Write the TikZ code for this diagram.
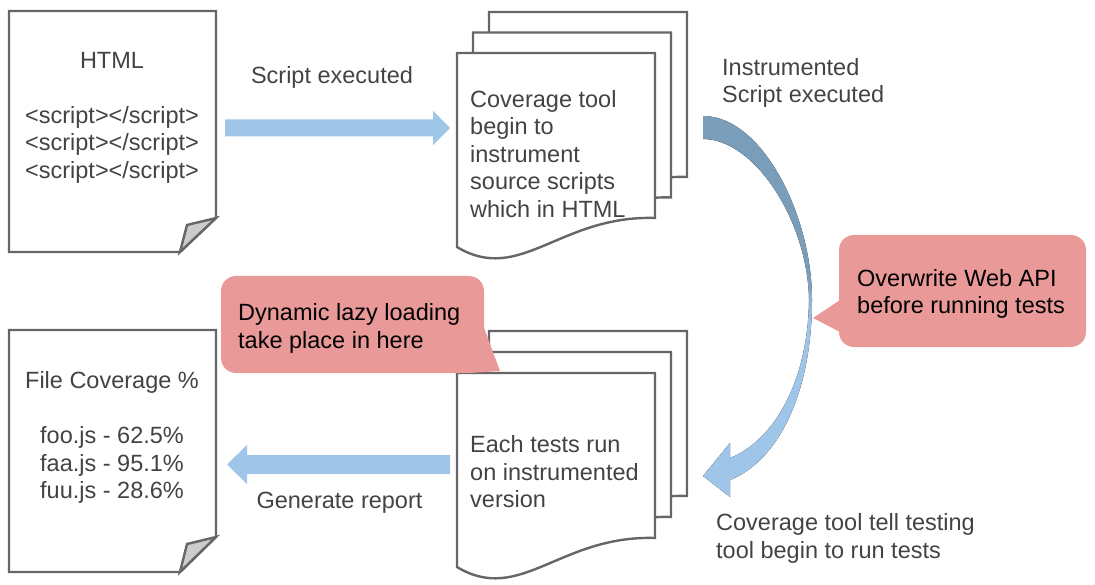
\documentclass[tikz,border=0pt]{standalone}
\usepackage{fontspec}
\setmainfont{Liberation Sans}
\definecolor{docgray}{RGB}{102,102,102}
\definecolor{foldgray}{RGB}{204,204,204}
\definecolor{txtgray}{RGB}{67,67,67}
\definecolor{arrowblue}{RGB}{159,197,232}
\definecolor{calloutred}{RGB}{234,153,153}
\definecolor{arcdark}{RGB}{122,157,186}
\definecolor{arclight}{RGB}{159,197,232}
\pgfdeclareverticalshading{arcshade}{100bp}{color(0bp)=(arclight); color(48bp)=(arclight); color(54bp)=(arcdark); color(100bp)=(arcdark)}
\newcommand\wavedoc[2]{\draw[docline,shift={(#1,#2)}] (0,0) -- (198,0) -- (198,165) .. controls (103,162) and (63,232) .. (0,194) -- cycle;}
\begin{document}
\begin{tikzpicture}[x=1pt,y=-1pt,
  docline/.style={draw=docgray, line width=2.4pt, fill=white},
  foldfill/.style={draw=docgray, line width=2.4pt, fill=foldgray},
  txt/.style={text=txtgray, font=\fontsize{23.5}{27.5}\selectfont, inner sep=0pt},
  calltxt/.style={text=black, font=\fontsize{23.5}{27.5}\selectfont, inner sep=0pt, align=left, anchor=west},
  bluearrow/.style={fill=arrowblue},
  callout/.style={fill=calloutred}]
\useasboundingbox (0,0) rectangle (1095,585);

% source HTML document
\draw[docline] (9,11) -- (216,11) -- (216,218) -- (180,252) -- (9,252) -- cycle;
\draw[foldfill] (216,218) -- (187,225) -- (180,252) -- cycle;
\node[txt, align=center] (html) at (112,117.5) {HTML\\[27.5pt]<script></script>\\<script></script>\\<script></script>};

% report document
\draw[docline] (9,330) -- (216,330) -- (216,537) -- (180,572) -- (9,572) -- cycle;
\draw[foldfill] (216,537) -- (187,544) -- (180,572) -- cycle;
\node[txt, align=center] (cov) at (112,437.5) {File Coverage \%\\[27.5pt]foo.js - 62.5\%\\faa.js - 95.1\%\\fuu.js - 28.6\%};

% stacked documents
\wavedoc{489}{12}\wavedoc{473}{32.5}\wavedoc{457}{53}
\node[txt, align=left, anchor=west] (instr) at (470,154) {Coverage tool\\begin to\\instrument\\source scripts\\which in HTML};
\wavedoc{489}{331}\wavedoc{473}{352}\wavedoc{457}{373}
\node[txt, align=left, anchor=west] (tests) at (470,472) {Each tests run\\on instrumented\\version};

% block arrows
\fill[bluearrow] (225,119.5) -- (433,119.5) -- (433,111) -- (450,128) -- (433,145) -- (433,136.5) -- (225,136.5) -- cycle;
\fill[bluearrow] (450,455) -- (247,455) -- (247,445) -- (227,464.5) -- (247,484) -- (247,474) -- (450,474) -- cycle;

% curved arrow
\fill[shading=arcshade] (703,116) .. controls (762,116) and (812,215) .. (812,300)
  .. controls (812,390) and (780,460) .. (730,480) -- (730,497) -- (703,476) -- (730,443) -- (730,458)
  .. controls (775,440) and (808,380) .. (809,300) .. controls (808,222) and (755,139) .. (703,139) -- cycle;

% labels
\node[txt] (l1) at (332,77.5) {Script executed};
\node[txt, align=left, anchor=west] (l2) at (722,83) {Instrumented\\Script executed};
\node[txt] (l3) at (339.5,502.5) {Generate report};
\node[txt, align=left, anchor=west] (l4) at (716,538.5) {Coverage tool tell testing\\tool begin to run tests};

% callouts
\fill[callout, rounded corners=15pt] (839,235) rectangle (1086,347);
\fill[callout] (840,300) -- (813,318) -- (840,332) -- cycle;
\node[calltxt] (c1) at (857,294) {Overwrite Web API\\before running tests};
\fill[callout, rounded corners=15pt] (221,276) rectangle (484,373);
\fill[callout] (483,325) -- (500,371) -- (470,373) -- cycle;
\node[calltxt] (c2) at (238,328.5) {Dynamic lazy loading\\take place in here};
\end{tikzpicture}
\end{document}
